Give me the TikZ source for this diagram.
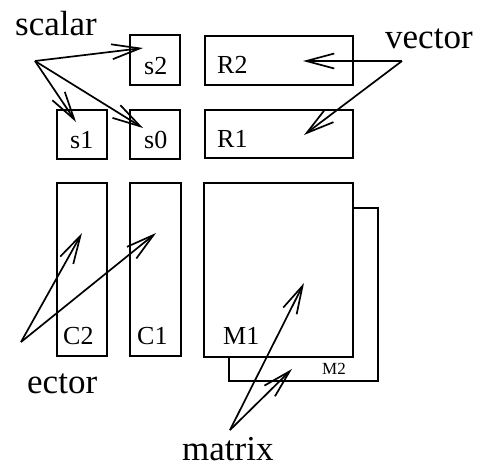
\documentclass[tikz,border=0pt]{standalone}
\usepackage{fontspec}
\setmainfont{Liberation Serif}
\usetikzlibrary{arrows.meta}
\tikzset{
  box/.style={draw, line width=1.7pt, fill=white, inner sep=0pt, rectangle},
  big/.style={font=\fontsize{35}{40}\selectfont, anchor=base west, inner sep=0pt},
  lbl/.style={font=\fontsize{26}{30}\selectfont, anchor=base west, inner sep=0pt},
  small/.style={font=\fontsize{17}{20}\selectfont, anchor=base west, inner sep=0pt},
  ptr/.style={line width=1.7pt, -{Straight Barb[length=28pt,width=15pt,line width=1.7pt]}}
}
\begin{document}
\begin{tikzpicture}[x=1pt,y=-1pt]
\useasboundingbox (0,0) rectangle (480,467);
% boxes
\node[box, minimum width=50, minimum height=50] (s2) at (155,60) {};
\node[box, minimum width=50, minimum height=49] (s1) at (82,134.5) {};
\node[box, minimum width=50, minimum height=49] (s0) at (155,134.5) {};
\node[box, minimum width=148, minimum height=49] (R2) at (279,60.5) {};
\node[box, minimum width=148, minimum height=48] (R1) at (279,134) {};
\node[box, minimum width=50, minimum height=173] (C2) at (82,269.5) {};
\node[box, minimum width=51, minimum height=173] (C1) at (155.5,269.5) {};
\node[box, minimum width=149, minimum height=173] (M2) at (303.5,294.5) {};
\node[box, minimum width=149, minimum height=174] (M1) at (278.5,270) {};
% box labels
\node[lbl] (ls2) at (144,74) {s2};
\node[lbl] (ls1) at (70,148) {s1};
\node[lbl] (ls0) at (144,148) {s0};
\node[lbl] (lR2) at (217,73) {R2};
\node[lbl] (lR1) at (217,147) {R1};
\node[lbl] (lC2) at (63,344) {C2};
\node[lbl] (lC1) at (137,344) {C1};
\node[lbl] (lM1) at (223,344) {M1};
\node[small] (lM2) at (322,374) {M2};
% group labels
\node[big] (scalar) at (15,35) {scalar};
\node[big] (vector) at (385,48) {vector};
\node[big] (ector) at (27,393) {ector};
\node[big] (matrix) at (182,460) {matrix};
% arrow ends
\coordinate (sa) at (35,61);
\coordinate (ts2) at (143,48);
\coordinate (ts1) at (76,122);
\coordinate (ts0) at (143,128);
\coordinate (va) at (402,61);
\coordinate (tR2) at (303,61);
\coordinate (tR1) at (304,135);
\coordinate (ea) at (21,342);
\coordinate (tC2) at (82,233);
\coordinate (tC1) at (156,233);
\coordinate (ma) at (230,430);
\coordinate (tM1) at (304,283);
\coordinate (tM2) at (292,369);
% arrows
\draw[ptr] (sa) -- (ts2);
\draw[ptr] (sa) -- (ts1);
\draw[ptr] (sa) -- (ts0);
\draw[ptr] (va) -- (tR2);
\draw[ptr] (va) -- (tR1);
\draw[ptr] (ea) -- (tC2);
\draw[ptr] (ea) -- (tC1);
\draw[ptr] (ma) -- (tM1);
\draw[ptr] (ma) -- (tM2);
\end{tikzpicture}
\end{document}
